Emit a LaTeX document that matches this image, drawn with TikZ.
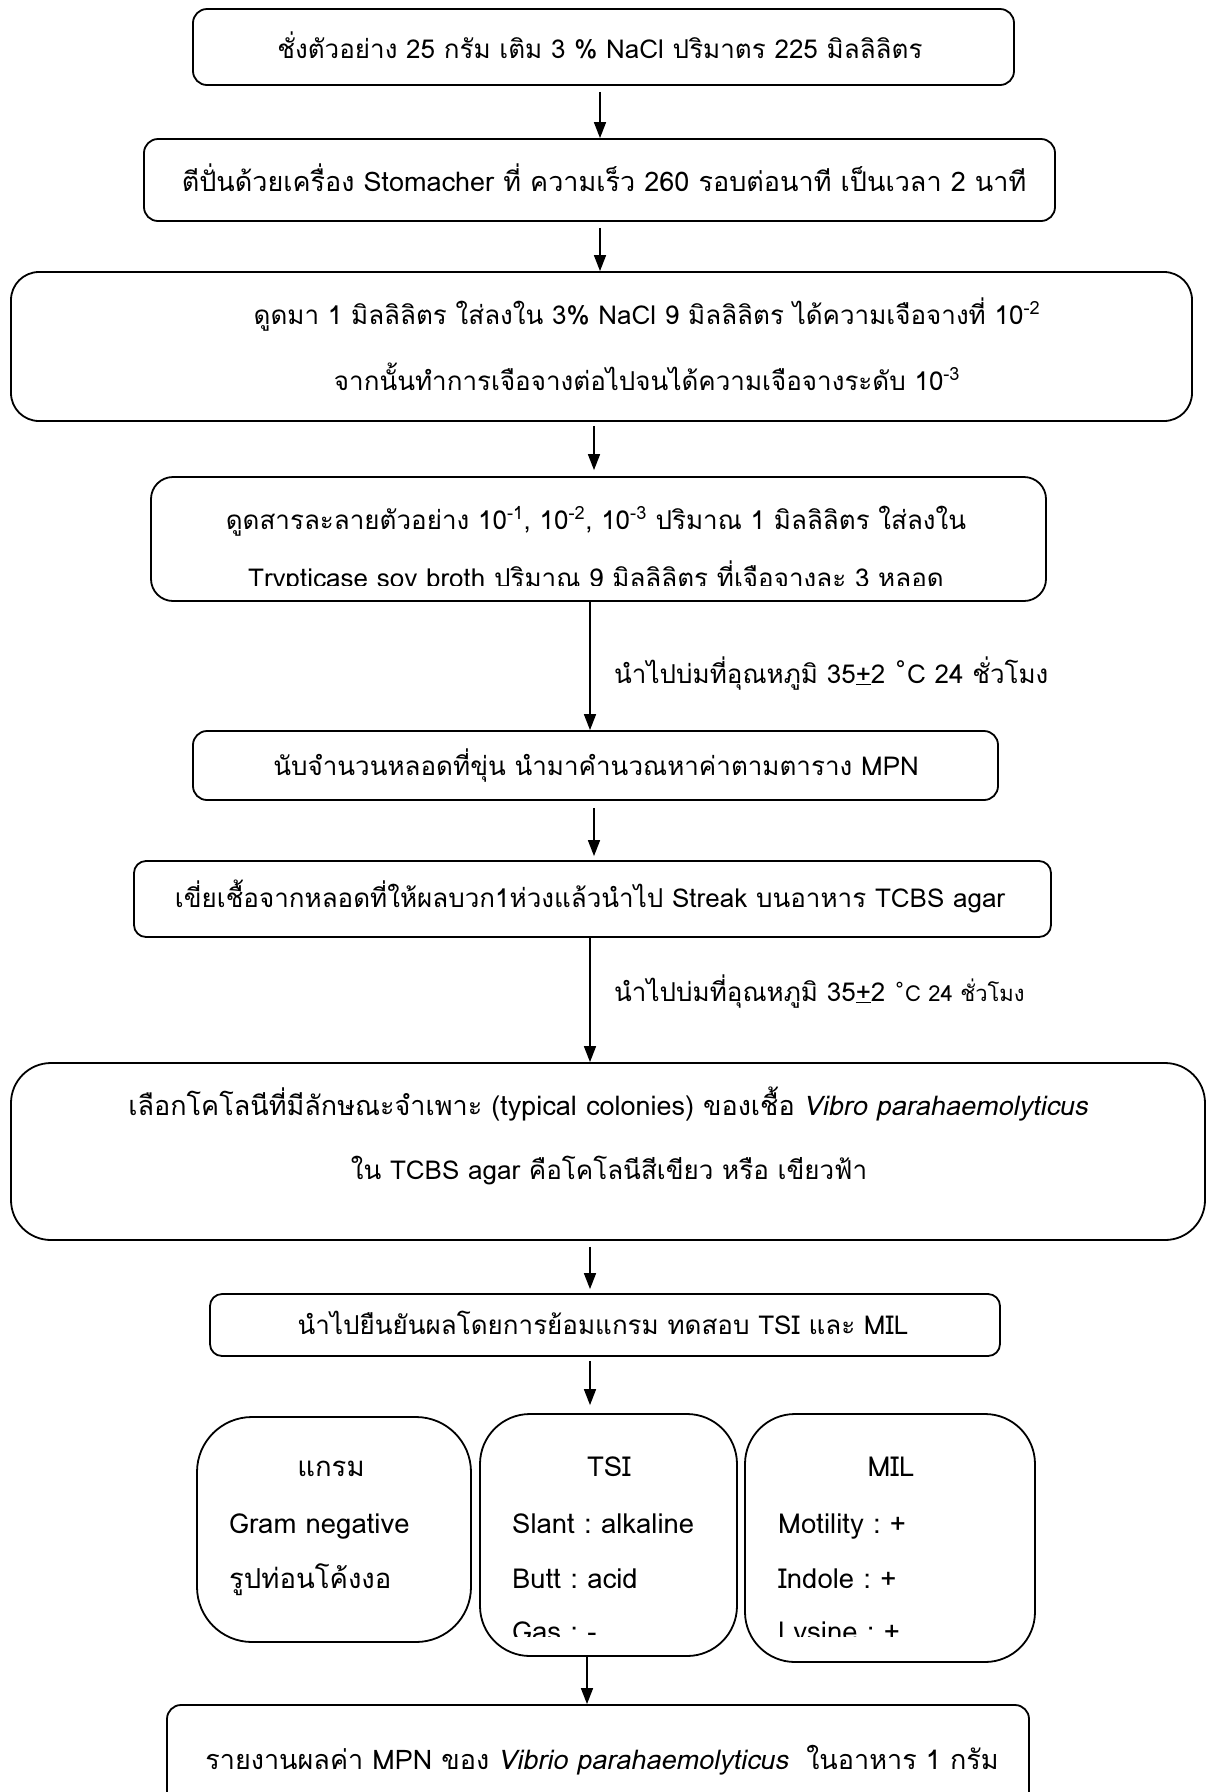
\documentclass[tikz,border=0pt]{standalone}
\usepackage{fontspec}
\setmainfont[Script=Thai,AutoFakeSlant=0.2]{Loma}
\newfontfamily\dejavu{DejaVu Sans}
\usetikzlibrary{arrows.meta,calc}
\begin{document}
\frenchspacing
\begin{tikzpicture}[x=1pt,y=-1pt,
  box/.style={draw, line width=1.8pt, rectangle, inner sep=0pt},
  txt/.style={font=\fontsize{26}{30}\selectfont, inner sep=0pt, anchor=base},
  txtl/.style={font=\fontsize{27}{31}\selectfont, inner sep=0pt, anchor=base},
  ltxt/.style={font=\fontsize{26}{30}\selectfont, inner sep=0pt, anchor=base west},
  btxt/.style={font=\fontsize{27.5}{32}\selectfont, inner sep=0pt, anchor=base},
  bltxt/.style={font=\fontsize{27.5}{32}\selectfont, inner sep=0pt, anchor=base west},
  arr/.style={line width=1.6pt, -{Triangle[length=16pt,width=12pt]}},
]
\useasboundingbox[fill=white] (0,0) rectangle (1208,1792);

% boxes
\node[box, rounded corners=14pt, minimum width=821pt, minimum height=76pt] (b1) at (603.5,47) {};
\node[box, rounded corners=14pt, minimum width=911pt, minimum height=82pt] (b2) at (599.5,180) {};
\node[box, rounded corners=28pt, minimum width=1181pt, minimum height=149pt] (b3) at (601.5,346.5) {};
\node[box, rounded corners=22pt, minimum width=895pt, minimum height=124pt] (b4) at (598.5,539) {};
\node[box, rounded corners=14pt, minimum width=805pt, minimum height=69pt] (b5) at (595.5,765.5) {};
\node[box, rounded corners=12pt, minimum width=917pt, minimum height=76pt] (b6) at (592.5,899) {};
\node[box, rounded corners=40pt, minimum width=1194pt, minimum height=177pt] (b7) at (608,1151.5) {};
\node[box, rounded corners=12pt, minimum width=790pt, minimum height=62pt] (b8) at (605,1325) {};
\node[box, rounded corners=55pt, minimum width=274pt, minimum height=225pt] (b9a) at (334,1529.5) {};
\node[box, rounded corners=50pt, minimum width=257pt, minimum height=242pt] (b9b) at (608.5,1535) {};
\node[box, rounded corners=50pt, minimum width=290pt, minimum height=248pt] (b9c) at (890,1538) {};
\node[box, rounded corners=14pt, minimum width=862pt, minimum height=125pt] (b10) at (598,1767.5) {};

% texts
\node[txt] (t1) at (600,58) {ชั่งตัวอย่าง 25 กรัม เติม 3 \% NaCl ปริมาตร 225 มิลลิลิตร};
\node[txtl] (t2) at (604,191) {ตีปั่นด้วยเครื่อง Stomacher ที่ ความเร็ว 260 รอบต่อนาที เป็นเวลา 2 นาที};
\node[txt] (t3a) at (647,324) {ดูดมา 1 มิลลิลิตร ใส่ลงใน 3\% NaCl 9 มิลลิลิตร ได้ความเจือจางที่ 10\textsuperscript{-2}};
\node[txt] (t3b) at (647,390) {จากนั้นทำการเจือจางต่อไปจนได้ความเจือจางระดับ 10\textsuperscript{-3}};
\node[txt] (t4a) at (596,529) {ดูดสารละลายตัวอย่าง 10\textsuperscript{-1}, 10\textsuperscript{-2}, 10\textsuperscript{-3} ปริมาณ 1 มิลลิลิตร ใส่ลงใน};
\begin{scope}
\clip (b4.west |- 0,540) rectangle (b4.east |- 0,585);
\node[txt] (t4b) at (596,587) {Trypticase soy broth ปริมาณ 9 มิลลิลิตร ที่เจือจางละ 3 หลอด};
\end{scope}
\node[ltxt] (l1) at (614,683) {นำไปบ่มที่อุณหภูมิ 35\underline{+}2 {\dejavu ˚}C 24 ชั่วโมง};
\node[txt] (t5) at (596,775) {นับจำนวนหลอดที่ขุ่น นำมาคำนวณหาค่าตามตาราง MPN};
\node[txt] (t6) at (590,907) {เขี่ยเชื้อจากหลอดที่ให้ผลบวก1ห่วงแล้วนำไป Streak บนอาหาร TCBS agar};
\node[ltxt] (l2) at (614,1001) {นำไปบ่มที่อุณหภูมิ 35\underline{+}2 {\fontsize{22}{26}\selectfont{\dejavu ˚}C 24 ชั่วโมง}};
\node[txtl] (t7a) at (608,1115) {เลือกโคโลนีที่มีลักษณะจำเพาะ (typical colonies) ของเชื้อ \textit{Vibro parahaemolyticus}};
\node[txt] (t7b) at (609,1179) {ใน TCBS agar คือโคโลนีสีเขียว หรือ เขียวฟ้า};
\node[txt] (t8) at (603,1334) {นำไปยืนยันผลโดยการย้อมแกรม ทดสอบ TSI และ MIL};

\node[btxt] (g1) at (331,1476) {แกรม};
\node[bltxt] (g2) at (229,1533) {Gram negative};
\node[bltxt] (g3) at (229,1588) {รูปท่อนโค้งงอ};

\node[btxt] (s1) at (609,1476) {TSI};
\node[bltxt] (s2) at (512,1533) {Slant : alkaline};
\node[bltxt] (s3) at (512,1588) {Butt : acid};
\node[btxt] (m1) at (891,1476) {MIL};
\node[bltxt] (m2) at (778,1533) {Motility : +};
\node[bltxt] (m3) at (778,1588) {Indole : +};
\begin{scope}
\clip (480,1600) rectangle (1040,1636);
\node[bltxt] (s4) at (512,1641) {Gas : -};
\node[bltxt] (m4) at (778,1641) {Lysine : +};
\end{scope}

\node[txtl] (t10) at (602,1769) {รายงานผลค่า MPN ของ \textit{Vibrio parahaemolyticus}\ \ ในอาหาร 1 กรัม};

% connector columns
\coordinate (c600) at (600,0);
\coordinate (c594) at (594,0);
\coordinate (c590) at (590,0);
\coordinate (c587) at (587,0);

\draw[arr, shorten <=6pt] (b1.south -| c600) -- (b2.north -| c600);
\draw[arr, shorten <=6pt] (b2.south -| c600) -- (b3.north -| c600);
\draw[arr, shorten <=4pt, shorten >=6pt] (b3.south -| c594) -- (b4.north -| c594);
\draw[arr] (b4.south -| c590) -- (b5.north -| c590);
\draw[arr, shorten <=7pt, shorten >=4pt] (b5.south -| c594) -- (b6.north -| c594);
\draw[arr] (b6.south -| c590) -- (b7.north -| c590);
\draw[arr, shorten <=6pt, shorten >=4pt] (b7.south -| c590) -- (b8.north -| c590);
\draw[arr, shorten <=4pt, shorten >=8pt] (b8.south -| c590) -- (b9b.north -| c590);
\draw[arr] (b9b.south -| c587) -- (b10.north -| c587);
\end{tikzpicture}
\end{document}
